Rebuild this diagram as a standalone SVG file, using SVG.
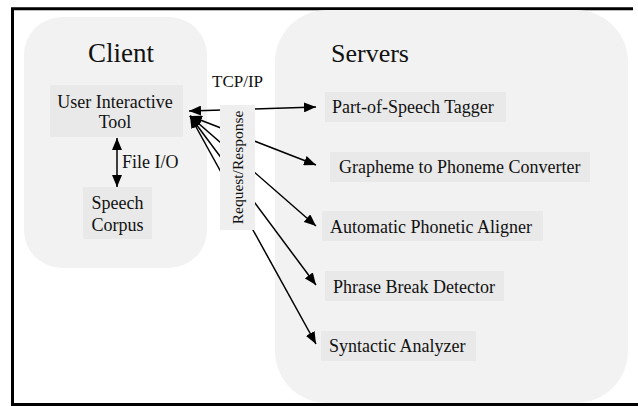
<svg xmlns="http://www.w3.org/2000/svg" width="638" height="406" viewBox="0 0 638 406">
<defs>
<style>
.panel{fill:#f2f2f2}
.node{fill:#e9e9e9}
.t{font-family:"Liberation Serif","Times New Roman",serif;fill:#111}
.lbl{font-size:18px}
.conn{stroke:#000;stroke-width:1.5;fill:none;marker-start:url(#ah);marker-end:url(#ah)}
</style>
<marker id="ah" viewBox="0 0 12 10" refX="12" refY="5" markerWidth="12" markerHeight="10" markerUnits="userSpaceOnUse" orient="auto-start-reverse">
<path d="M0,0 L12,5 L0,10 z" fill="#000"/>
</marker>
</defs>
<rect width="638" height="406" fill="#fff"/>
<path d="M633,8.7 H12.5 V404.6 H638" fill="none" stroke="#000" stroke-width="3"/>
<g id="client-panel">
<rect class="panel" x="24" y="17" width="183" height="251" rx="38"/>
<text class="t" x="121" y="62" font-size="27" text-anchor="middle">Client</text>
</g>
<g id="servers-panel">
<rect class="panel" x="275" y="10" width="353" height="393" rx="52"/>
<text class="t" x="331" y="62" font-size="26">Servers</text>
</g>
<g id="connectors">
<line class="conn" x1="189" y1="111" x2="316" y2="107"/>
<line class="conn" x1="190" y1="116" x2="316" y2="165"/>
<line class="conn" x1="190" y1="116" x2="316" y2="226"/>
<line class="conn" x1="190" y1="116" x2="316" y2="285"/>
<line class="conn" x1="190" y1="116" x2="316" y2="344"/>
<line class="conn" x1="117" y1="138" x2="117" y2="187"/>
<text class="t lbl" x="122" y="168">File I/O</text>
<text class="t" x="212" y="87" font-size="17">TCP/IP</text>
</g>
<g id="request-response">
<rect x="220" y="105" width="35" height="125" fill="#efefef"/>
<text class="t" x="0" y="0" font-size="15.5" text-anchor="middle" transform="translate(243,167.5) rotate(-90)">Request/Response</text>
</g>
<g id="user-tool">
<rect class="node" x="50" y="85" width="133" height="52"/>
<text class="t lbl" x="115" y="108" text-anchor="middle">User Interactive</text>
<text class="t lbl" x="115" y="128" text-anchor="middle">Tool</text>
</g>
<g id="speech-corpus">
<rect class="node" x="83" y="187" width="69" height="52"/>
<text class="t lbl" x="117.5" y="209" text-anchor="middle">Speech</text>
<text class="t lbl" x="117.5" y="231" text-anchor="middle">Corpus</text>
</g>
<g id="pos-tagger">
<rect class="node" x="325" y="92" width="181" height="30"/>
<text class="t lbl" x="332" y="113">Part-of-Speech Tagger</text>
</g>
<g id="g2p">
<rect class="node" x="330" y="152" width="260" height="30"/>
<text class="t lbl" x="339" y="173">Grapheme to Phoneme Converter</text>
</g>
<g id="aligner">
<rect class="node" x="322" y="211" width="221" height="30"/>
<text class="t lbl" x="330" y="233">Automatic Phonetic Aligner</text>
</g>
<g id="phrase-break">
<rect class="node" x="325" y="271" width="179" height="30"/>
<text class="t lbl" x="333" y="293">Phrase Break Detector</text>
</g>
<g id="syntactic">
<rect class="node" x="321" y="331" width="155" height="30"/>
<text class="t lbl" x="329" y="352">Syntactic Analyzer</text>
</g>
</svg>
